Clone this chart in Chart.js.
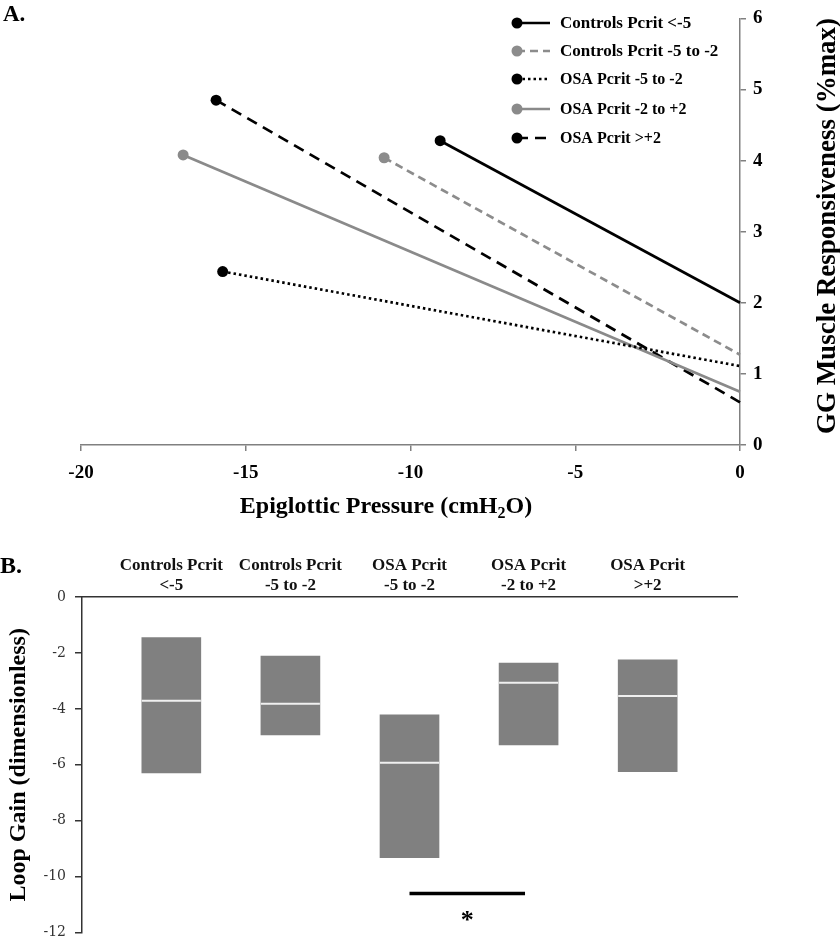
<!DOCTYPE html>
<html>
<head>
<meta charset="utf-8">
<script src="https://cdn.jsdelivr.net/npm/chart.js@4.4.0/dist/chart.umd.min.js"></script>
<style>
  body { margin: 0; width: 840px; height: 938px; overflow: hidden; background: #fff; position: relative; font-family: 'Liberation Serif', serif; }
  canvas { position: absolute; left: 0; }
  .tag { position: absolute; font-weight: bold; line-height: 1; color: #000; }
</style>
</head>
<body>
<canvas id="responseChart" width="840" height="530" style="top:0"></canvas>
<canvas id="loopGainChart" width="840" height="420" style="top:530px"></canvas>
<div class="tag" style="left:3px; top:2px; font-size:23px">A.</div>
<div class="tag" style="left:0px; top:553px; font-size:24px">B.</div>
<script>
// groups
const groupNames = ['Controls Pcrit <-5', 'Controls Pcrit -5 to -2', 'OSA Pcrit -5 to -2', 'OSA Pcrit -2 to +2', 'OSA Pcrit >+2'];
const groupLabelsB = [['Controls Pcrit', '<-5'], ['Controls Pcrit', '-5 to -2'], ['OSA Pcrit', '-5 to -2'], ['OSA Pcrit', '-2 to +2'], ['OSA Pcrit', '>+2']];

// panel A: GG responsiveness lines, from the most negative pressure up to 0
const startPressure = [-9.1, -10.8, -15.7, -16.9, -15.9];
const startResponse = [4.28, 4.04, 2.44, 4.08, 4.85];
const endPressure = [0, 0, 0, 0, 0];
const endResponse = [2.0, 1.27, 1.11, 0.75, 0.6];

// panel B: loop gain boxes (top, bottom, median)
const loopGainHigh = [-1.45, -2.11, -4.21, -2.36, -2.25];
const loopGainLow = [-6.29, -4.93, -9.32, -5.29, -6.25];
const loopGainMedian = [-3.71, -3.82, -5.93, -3.07, -3.54];

// significance bar between OSA -5 to -2 and OSA -2 to +2
const sigFrom = 3, sigTo = 3.97, sigLevel = -10.6, starLevel = -11.45;

// line styles for each group
const lineColors = ['#000000', '#8c8c8c', '#000000', '#8a8a8a', '#000000'];
const lineDashes = [[], [8, 5], [2.5, 3], [], [11, 7]];

const serif = '"Liberation Serif", "Times New Roman", serif';

// ---------- Panel A ----------
const panelADecor = {
  id: 'panelADecor',
  afterDraw(chart) {
    const ctx = chart.ctx;
    ctx.save();

    // legend inside the plot, top right
    const rowsY = [23, 51, 79, 109, 138];
    chart.data.datasets.forEach((ds, i) => {
      const y = rowsY[i];
      ctx.strokeStyle = ds.borderColor;
      ctx.lineWidth = ds.borderWidth;
      ctx.setLineDash(ds.borderDash);
      ctx.beginPath();
      ctx.moveTo(517, y);
      ctx.lineTo(550, y);
      ctx.stroke();
      ctx.setLineDash([]);
      ctx.fillStyle = ds.pointBackgroundColor;
      ctx.beginPath();
      ctx.arc(517, y, 5.5, 0, Math.PI * 2);
      ctx.fill();
      ctx.fillStyle = '#000';
      ctx.font = (i < 2 ? 'bold 17px ' : 'bold 16px ') + serif;
      ctx.textAlign = 'left';
      ctx.textBaseline = 'middle';
      ctx.fillText(ds.label, 560, y + 1);
    });

    // x title with subscript
    const partA = 'Epiglottic Pressure (cmH', sub = '2', partB = 'O)';
    ctx.textBaseline = 'alphabetic';
    ctx.font = 'bold 24px ' + serif;
    const wA = ctx.measureText(partA).width;
    const wB = ctx.measureText(partB).width;
    ctx.font = 'bold 16px ' + serif;
    const wS = ctx.measureText(sub).width;
    let x = 386 - (wA + wS + wB) / 2;
    ctx.font = 'bold 24px ' + serif;
    ctx.fillText(partA, x, 513);
    ctx.font = 'bold 16px ' + serif;
    ctx.fillText(sub, x + wA, 518);
    ctx.font = 'bold 24px ' + serif;
    ctx.fillText(partB, x + wA + wS, 513);

    // right-hand y title, reading bottom to top
    ctx.translate(835, 226);
    ctx.rotate(-Math.PI / 2);
    ctx.textAlign = 'center';
    ctx.font = 'bold 27px ' + serif;
    ctx.fillText('GG Muscle Responsiveness (%max)', 0, 0);
    ctx.restore();
  }
};

new Chart(document.getElementById('responseChart'), {
  type: 'scatter',
  data: {
    datasets: groupNames.map((name, i) => ({
      label: name,
      data: [{ x: startPressure[i], y: startResponse[i] }, { x: endPressure[i], y: endResponse[i] }],
      showLine: true,
      borderColor: lineColors[i],
      borderDash: lineDashes[i],
      borderWidth: 2.7,
      pointRadius: [5.5, 0],
      pointHoverRadius: 0,
      pointBackgroundColor: lineColors[i],
      pointBorderWidth: 0,
      clip: false
    }))
  },
  options: {
    responsive: false,
    animation: false,
    layout: { autoPadding: false, padding: { left: 81, top: 13, right: 0, bottom: 0 } },
    plugins: { legend: { display: false }, tooltip: { enabled: false } },
    scales: {
      x: {
        type: 'linear',
        min: -20, max: 0,
        afterFit: s => { s.height = 85; },
        ticks: { stepSize: 5, color: '#000', padding: 11, font: { family: serif, size: 19, weight: 'bold' } },
        grid: { drawOnChartArea: false, tickLength: 6, color: '#808080', lineWidth: 1.5 },
        border: { color: '#808080', width: 1.5 }
      },
      y: {
        position: 'right',
        min: 0, max: 6,
        afterFit: s => { s.width = 100; },
        ticks: { stepSize: 1, color: '#000', padding: 7, font: { family: serif, size: 19, weight: 'bold' } },
        grid: { drawOnChartArea: false, tickLength: 6, color: '#808080', lineWidth: 1.5 },
        border: { color: '#808080', width: 1.5 }
      }
    }
  },
  plugins: [panelADecor]
});

// ---------- Panel B ----------
const starPlugin = {
  id: 'starPlugin',
  afterDatasetsDraw(chart) {
    const ctx = chart.ctx;
    const x = chart.scales.x.getPixelForValue((sigFrom + sigTo) / 2);
    const y = chart.scales.y.getPixelForValue(starLevel);
    ctx.save();
    ctx.fillStyle = '#000';
    ctx.font = 'bold 26px ' + serif;
    ctx.textAlign = 'center';
    ctx.textBaseline = 'alphabetic';
    ctx.fillText('*', x, y + 11);
    ctx.restore();
  }
};

new Chart(document.getElementById('loopGainChart'), {
  type: 'bar',
  data: {
    datasets: [
      {
        type: 'scatter',
        data: loopGainMedian.map((m, i) => ({ x: i + 1, y: m })),
        pointStyle: 'line',
        pointRadius: 29.5,
        pointHoverRadius: 29.5,
        pointBorderColor: '#f0f0f0',
        pointBorderWidth: 2,
        order: 0
      },
      {
        type: 'line',
        data: [{ x: sigFrom, y: sigLevel }, { x: sigTo, y: sigLevel }],
        borderColor: '#000',
        borderWidth: 3.5,
        pointRadius: 0,
        order: 0
      },
      {
        type: 'bar',
        data: loopGainLow.map((lo, i) => ({ x: i + 1, y: [lo, loopGainHigh[i]] })),
        backgroundColor: '#808080',
        barThickness: 59,
        grouped: false,
        order: 1
      }
    ]
  },
  options: {
    responsive: false,
    animation: false,
    layout: { autoPadding: false, padding: { left: 0, top: 0, right: 103, bottom: 16 } },
    plugins: { legend: { display: false }, tooltip: { enabled: false } },
    scales: {
      x: {
        type: 'linear',
        position: 'top',
        min: 0.25, max: 5.75,
        offset: false,
        afterFit: s => { s.height = 67; },
        afterBuildTicks: s => { s.ticks = groupLabelsB.map((_, i) => ({ value: i + 1 })); },
        ticks: {
          autoSkip: false,
          maxRotation: 0,
          padding: 1,
          color: '#111',
          font: { family: serif, size: 17, weight: 'bold' },
          callback: v => groupLabelsB[v - 1]
        },
        grid: { display: false, drawTicks: false },
        border: { color: '#333', width: 1.5 }
      },
      y: {
        min: -12, max: 0,
        afterFit: s => { s.width = 82; },
        ticks: { stepSize: 2, color: '#333', padding: 9, font: { family: '"DejaVu Serif", serif', size: 14 } },
        grid: { drawOnChartArea: false, tickLength: 7, color: '#333', lineWidth: 1.5 },
        border: { color: '#333', width: 1.5 },
        title: {
          display: true,
          text: 'Loop Gain (dimensionless)',
          color: '#000',
          padding: { top: 4, bottom: 0 },
          font: { family: serif, size: 24, weight: 'bold' }
        }
      }
    }
  },
  plugins: [starPlugin]
});
</script>
</body>
</html>
